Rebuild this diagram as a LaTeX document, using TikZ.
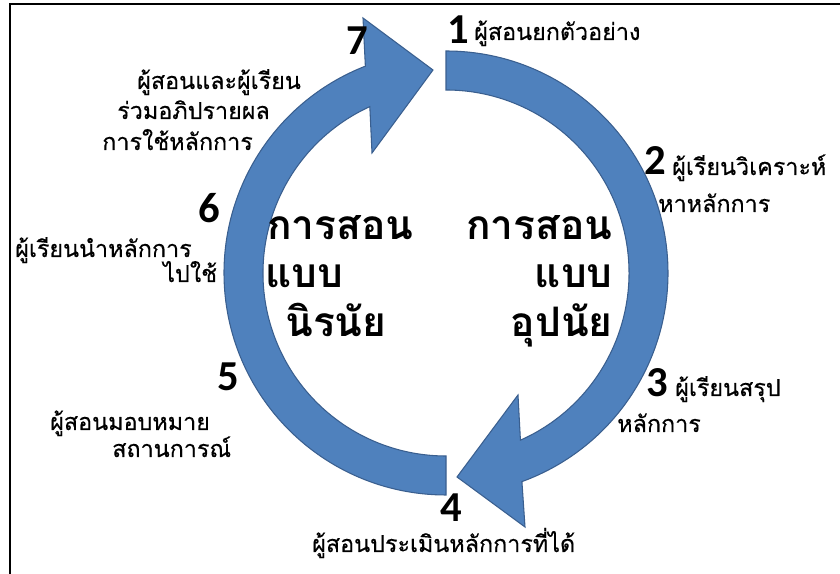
\documentclass[tikz,border=0pt]{standalone}
\usepackage{fontspec}
\newfontfamily\thaifont[Script=Thai]{Loma}
\newfontfamily\thailabelfont[Script=Thai,FakeBold=0.5]{Loma}
\newfontfamily\digitfont{Carlito}
\definecolor{arrowblue}{RGB}{79,129,189}
\definecolor{arrowedge}{RGB}{58,95,143}
\begin{document}
\begin{tikzpicture}[x=0.75pt,y=0.75pt,
  arrowshape/.style={fill=arrowblue,draw=arrowedge,line width=0.8pt,line join=miter},
  steplabel/.style={inner sep=0pt,anchor=base west,font=\thailabelfont\fontsize{17.5}{20}\selectfont},
  stepnum/.style={inner sep=0pt,anchor=center,font=\digitfont\bfseries\fontsize{32}{36}\selectfont},
  bigtext/.style={inner sep=0pt,font=\thaifont\bfseries\fontsize{30.5}{34}\selectfont}]
\useasboundingbox (0,0) rectangle (840,574);
% frame
\coordinate (frameTL) at (9.5,569.5);
\coordinate (frameTR) at (840,569.5);
\coordinate (frameBL) at (9.5,0);
\draw[line width=1.5pt] (frameTR) -- (frameTL) -- (frameBL);
% circular arrows
\begin{scope}[shift={(446,301)}]
\path[arrowshape] (90:222) arc[start angle=90, end angle=-70, radius=222]
  -- (79,-254) -- (11,-204) -- (72,-122) -- (-66:183)
  arc[start angle=-66, end angle=90, radius=183] -- cycle;
\path[arrowshape] (270:222) arc[start angle=270, end angle=111.3, radius=222]
  -- (-83,255) -- (-13,203) -- (-74,120) -- (114.6:183)
  arc[start angle=114.6, end angle=270, radius=183] -- cycle;
\end{scope}
% step numbers
\node[stepnum] (n1) at (458,544) {1};
\node[stepnum] (n2) at (655,413) {2};
\node[stepnum] (n3) at (657,191) {3};
\node[stepnum] (n4) at (451,66) {4};
\node[stepnum] (n5) at (228,197) {5};
\node[stepnum] (n6) at (209,366) {6};
\node[stepnum] (n7) at (357,533) {7};
% step labels
\node[steplabel] (t1) at (474,534) {ผู้สอนยกตัวอย่าง};
\node[steplabel] (t2a) at (672,399) {ผู้เรียนวิเคราะห์};
\node[steplabel] (t2b) at (658,362) {หาหลักการ};
\node[steplabel] (t3a) at (675,178) {ผู้เรียนสรุป};
\node[steplabel] (t3b) at (617,142) {หลักการ};
\node[steplabel] (t4) at (312,22) {ผู้สอนประเมินหลักการที่ได้};
\node[steplabel] (t5a) at (50,144) {ผู้สอนมอบหมาย};
\node[steplabel] (t5b) at (112,117) {สถานการณ์};
\node[steplabel] (t6a) at (15,317) {ผู้เรียนนำหลักการ};
\node[steplabel] (t6b) at (163,292) {ไปใช้};
\node[steplabel] (t7a) at (137,485) {ผู้สอนและผู้เรียน};
\node[steplabel] (t7b) at (117,455) {ร่วมอภิปรายผล};
\node[steplabel] (t7c) at (102,424) {การใช้หลักการ};
% centre titles
\node[bigtext,anchor=base west] (l1) at (267,334) {การสอน};
\node[bigtext,anchor=base west] (l2) at (265,286) {แบบ};
\node[bigtext,anchor=base west] (l3) at (285,237) {นิรนัย};
\node[bigtext,anchor=base east] (r1) at (613,334) {การสอน};
\node[bigtext,anchor=base east] (r2) at (613,286) {แบบ};
\node[bigtext,anchor=base east] (r3) at (613,237) {อุปนัย};
\end{tikzpicture}
\end{document}
